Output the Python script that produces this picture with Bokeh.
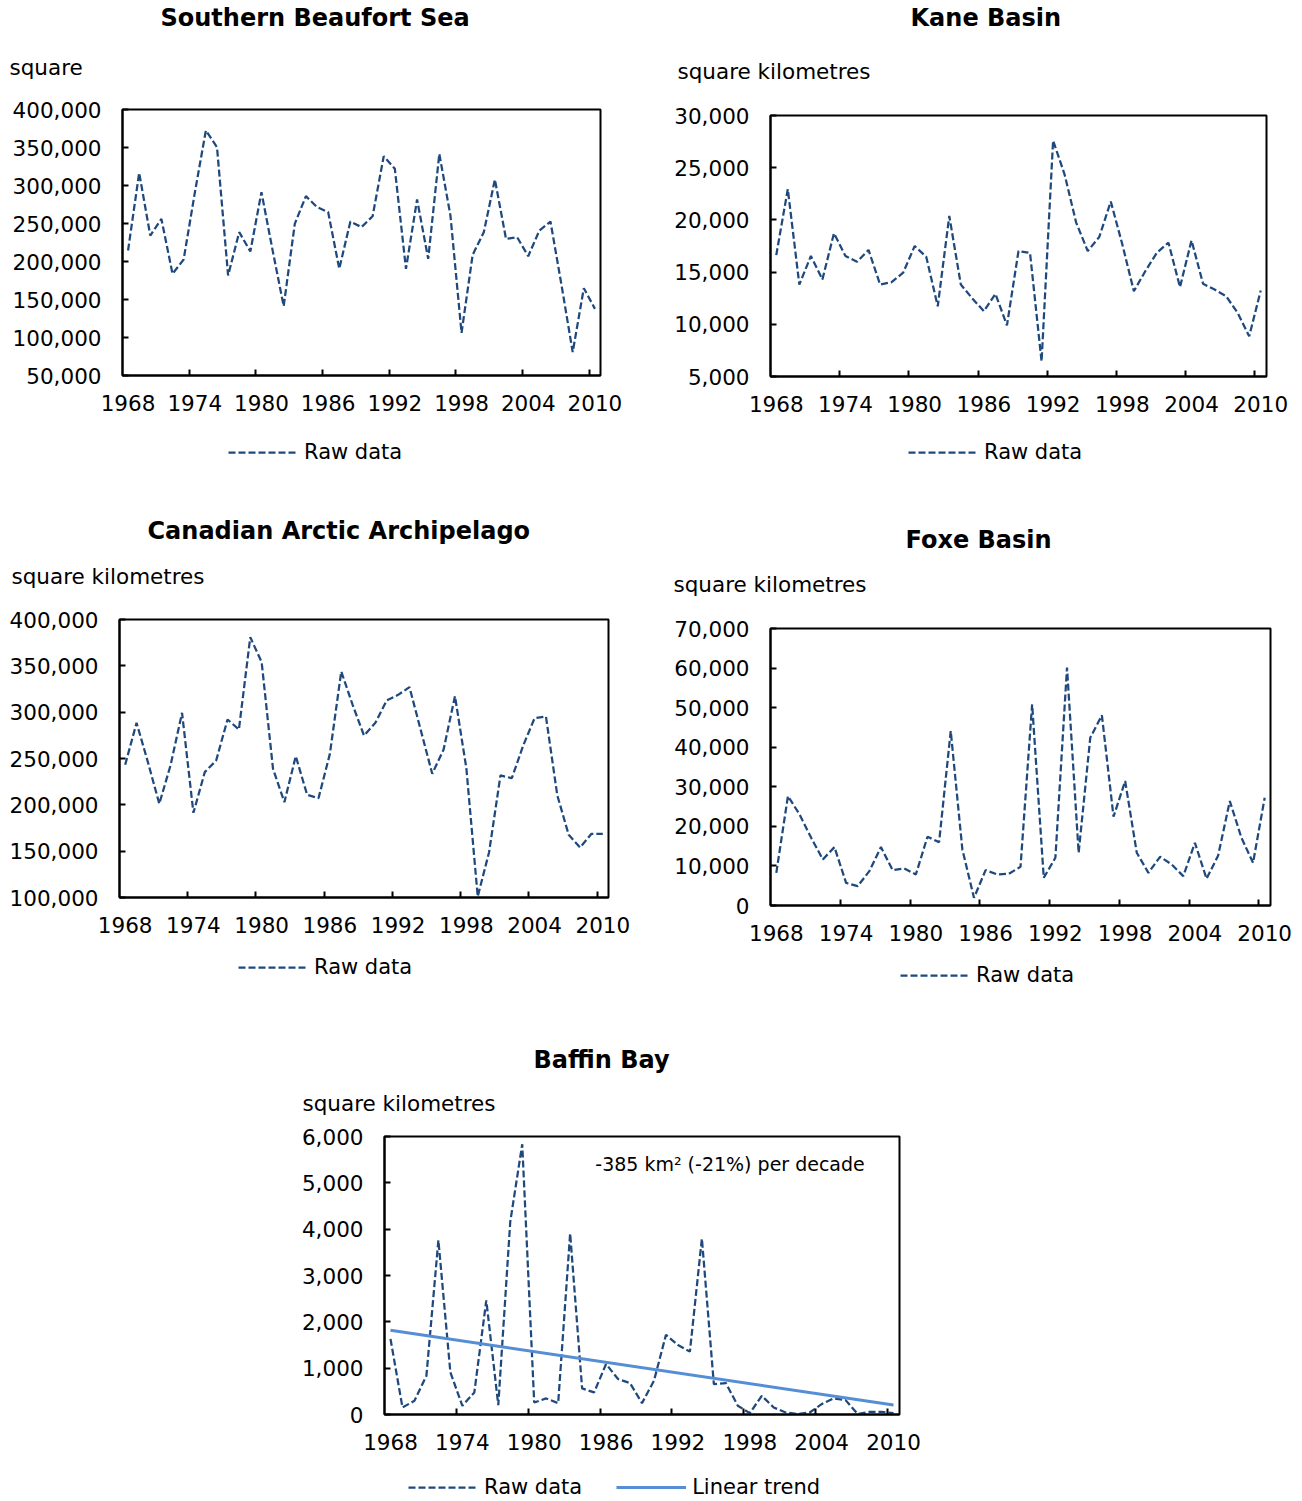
from bokeh.plotting import figure
from bokeh.models import (Range1d, FixedTicker, NumeralTickFormatter, Title,
                          Legend, LegendItem, Label)
from bokeh.layouts import column, row
from bokeh.embed import file_html
from bokeh.resources import INLINE

# ---------------- data ----------------
years = list(range(1968, 2011))
label_years = [1968, 1974, 1980, 1986, 1992, 1998, 2004, 2010]

beaufort = [214500, 316700, 234000, 256000, 183800, 202600, 290000, 372400, 350400, 181600,
            238600, 213200, 291200, 215000, 141200, 249600, 286000, 271500, 265000, 190400,
            252600, 245200, 259600, 338600, 321900, 190400, 281600, 203500, 341700, 260500,
            106100, 208800, 238600, 307900, 229800, 232000, 207000, 240800, 252600, 168400,
            80700, 164900, 137700]
beaufort_ticks = [50000, 100000, 150000, 200000, 250000, 300000, 350000, 400000]

kane = [16630, 22950, 13810, 16540, 14290, 18720, 16540, 15990, 17120, 13810,
        14040, 14940, 17500, 16470, 11730, 20380, 13810, 12470, 11250, 12920,
        9900, 17020, 16830, 6440, 27600, 24330, 19740, 17020, 18360, 21760,
        17660, 13170, 15100, 16860, 17820, 13560, 18040, 13880, 13330, 12690,
        11090, 8850, 13240]
kane_ticks = [5000, 10000, 15000, 20000, 25000, 30000]

archipelago = [243200, 288500, 246000, 201100, 243200, 299300, 191400, 235300, 247800, 292100,
               281300, 380900, 354000, 238800, 202900, 252500, 210800, 207200, 255000, 343900,
               307900, 274800, 288500, 312600, 318700, 327000, 280200, 233500, 259700, 317300,
               239600, 101000, 148900, 231700, 228800, 264000, 293500, 295300, 210100, 167600,
               154000, 168700, 168700]
archipelago_ticks = [100000, 150000, 200000, 250000, 300000, 350000, 400000]

foxe = [8260, 27660, 23000, 17100, 11640, 14760, 5730, 4890, 8680, 14760,
        8940, 9360, 7840, 17370, 16020, 44100, 14170, 1940, 8940, 7840,
        8010, 9780, 50840, 7000, 12060, 60120, 13320, 42410, 48060, 22430,
        31450, 13320, 8260, 12310, 10370, 7420, 15850, 6750, 12650, 26390,
        17120, 10790, 27230]
foxe_ticks = [0, 10000, 20000, 30000, 40000, 50000, 60000, 70000]

baffin = [1632, 152, 296, 838, 3762, 910, 188, 477, 2462, 202,
          4159, 5834, 260, 347, 245, 3906, 563, 477, 1090, 765,
          679, 245, 729, 1718, 1502, 1357, 3798, 657, 679, 188,
          29, 404, 152, 43, 10, 43, 224, 347, 310, 10,
          58, 58, 29]
baffin_ticks = [0, 1000, 2000, 3000, 4000, 5000, 6000]
trend_years = [1968, 2010]
trend_values = [1820, 203]
trend_note = "-385 km\u00b2 (-21%) per decade"

FONT = "DejaVu Sans"
DARK = "#1f497d"
LIGHT = "#558ed5"
TXT = "21.5px"
RAW = dict(line_color=DARK, line_width=2.25, line_dash="7 3")
TREND = dict(line_color=LIGHT, line_width=3)


def make_chart(title, unit, values, y_ticks, g, pos):
    p = figure(frame_width=g["fw"], frame_height=g["fh"],
               x_range=Range1d(1967.5, 2010.5),
               y_range=Range1d(y_ticks[0], y_ticks[-1]),
               output_backend="svg", toolbar_location=None, title=None,
               min_border_left=g["bl"], min_border_right=g["br"],
               min_border_top=g["bt"], min_border_bottom=g["bb"])
    p.frame_align = False
    p.background_fill_color = "white"
    p.border_fill_color = "white"
    p.outline_line_color = "black"
    p.outline_line_width = 2
    p.outline_line_alpha = 1
    p.xgrid.visible = False
    p.ygrid.visible = False

    xa = p.xaxis[0]
    xa.ticker = FixedTicker(ticks=label_years,
                            minor_ticks=[y - 0.5 for y in label_years[1:]])
    xa.major_tick_in = 0
    xa.major_tick_out = 0
    xa.minor_tick_in = 6
    xa.minor_tick_out = 0
    xa.minor_tick_line_color = "black"
    xa.minor_tick_line_width = 2
    xa.major_label_standoff = 19

    ya = p.yaxis[0]
    ya.ticker = FixedTicker(ticks=y_ticks, minor_ticks=[])
    ya.formatter = NumeralTickFormatter(format="0,0")
    ya.major_tick_in = 6
    ya.major_tick_out = 0
    ya.minor_tick_in = 0
    ya.minor_tick_out = 0
    ya.major_tick_line_color = "black"
    ya.major_tick_line_width = 2
    ya.major_label_standoff = 21

    for ax in (xa, ya):
        ax.axis_line_color = "black"
        ax.axis_line_width = 2
        ax.major_label_text_font = FONT
        ax.major_label_text_font_size = TXT
        ax.major_label_text_color = "black"

    p.line(years, values, **RAW)

    p.add_layout(Title(text=unit, align="left", offset=pos["ux"],
                       standoff=pos["us"], vertical_align="top",
                       text_font=FONT, text_font_size=TXT,
                       text_font_style="normal", text_color="black"), "above")
    p.add_layout(Title(text=title, align="left", offset=pos["tx"],
                       standoff=pos["ts"], vertical_align="top",
                       text_font=FONT, text_font_size="24px",
                       text_font_style="bold", text_color="black"), "above")
    return p


def make_legend(width, height, entries, lx, ly):
    """A strip below a chart holding its legend (the lines sit outside the visible range)."""
    q = figure(frame_width=width, frame_height=height,
               x_range=Range1d(1967.5, 2010.5), y_range=Range1d(-2, -1),
               output_backend="svg", toolbar_location=None, title=None,
               x_axis_location=None, y_axis_location=None, min_border=0)
    q.frame_align = False
    q.outline_line_color = None
    q.xgrid.visible = False
    q.ygrid.visible = False
    q.background_fill_color = "white"
    q.border_fill_color = "white"
    items = []
    for label, xs, ys, style in entries:
        r = q.line(xs, ys, **style)
        items.append(LegendItem(label=label, renderers=[r]))
    leg = Legend(items=items, location=(lx, ly), orientation="horizontal",
                 padding=0, margin=0, glyph_width=70, glyph_height=20,
                 label_standoff=6, spacing=34, border_line_color=None,
                 background_fill_alpha=0, label_text_font=FONT,
                 label_text_font_size="21px", label_text_color="black")
    q.add_layout(leg, "center")
    return q


g1 = dict(bl=122, fw=478, br=50, bt=109, fh=266, bb=55)
g2 = dict(bl=120, fw=496, br=36, bt=115, fh=261, bb=54)
g3 = dict(bl=119, fw=489, br=42, bt=129, fh=278, bb=48)
g4 = dict(bl=120, fw=500, br=32, bt=138, fh=277, bb=40)
g5 = dict(bl=384, fw=515, br=101, bt=126, fh=278, bb=51)

pos1 = dict(tx=38, ts=-12, ux=-113, us=55)
pos2 = dict(tx=140, ts=-8, ux=-93, us=59)
pos3 = dict(tx=28, ts=-22, ux=-108, us=57)
pos4 = dict(tx=135, ts=-26, ux=-97, us=59)
pos5 = dict(tx=149, ts=-6, ux=-82, us=37)

p1 = make_chart("Southern Beaufort Sea", "square", beaufort, beaufort_ticks, g1, pos1)
p2 = make_chart("Kane Basin", "square kilometres", kane, kane_ticks, g2, pos2)
p3 = make_chart("Canadian Arctic Archipelago", "square kilometres",
                archipelago, archipelago_ticks, g3, pos3)
p4 = make_chart("Foxe Basin", "square kilometres", foxe, foxe_ticks, g4, pos4)
p5 = make_chart("Baffin Bay", "square kilometres", baffin, baffin_ticks, g5, pos5)
p5.line(trend_years, trend_values, **TREND)
p5.add_layout(Label(x=1985.1, y=5400, text=trend_note, text_baseline="middle",
                    text_font=FONT, text_font_size="19px", text_color="black"))

l1 = make_legend(650, 60, [("Raw data", years, beaufort, RAW)], 228, 26)
l2 = make_legend(652, 60, [("Raw data", years, kane, RAW)], 258, 26)
l3 = make_legend(650, 65, [("Raw data", years, archipelago, RAW)], 238, 31)
l4 = make_legend(652, 65, [("Raw data", years, foxe, RAW)], 250, 23)
l5 = make_legend(1000, 36, [("Raw data", years, baffin, RAW),
                            ("Linear trend", trend_years, trend_values, TREND)], 408, 2)

layout = column(row(p1, p2), row(l1, l2), row(p3, p4), row(l3, l4), p5, l5)

with open("out.html", "w") as f:
    f.write(file_html(layout, INLINE))
